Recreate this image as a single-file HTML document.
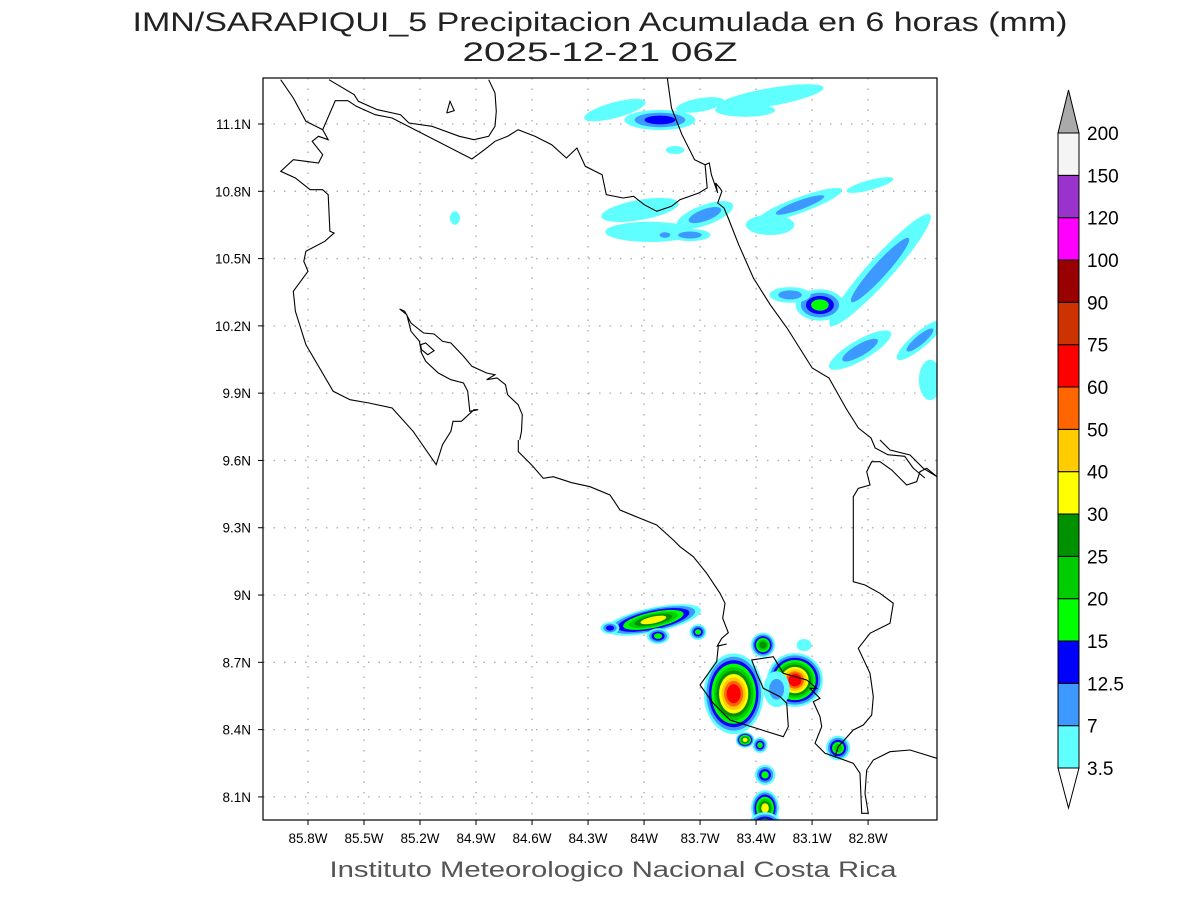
<!DOCTYPE html>
<html><head><meta charset="utf-8"><title>IMN precip</title>
<style>
html,body{margin:0;padding:0;background:#fff;}
svg{display:block;font-family:"Liberation Sans",sans-serif;}
</style></head>
<body>
<svg id="chart" width="1200" height="900" viewBox="0 0 1200 900" xmlns="http://www.w3.org/2000/svg">
<text x="600" y="31" text-anchor="middle" font-size="27" fill="#222" textLength="935" lengthAdjust="spacingAndGlyphs">IMN/SARAPIQUI_5 Precipitacion Acumulada en 6 horas (mm)</text>
<text x="600" y="61" text-anchor="middle" font-size="27" fill="#222" textLength="275" lengthAdjust="spacingAndGlyphs">2025-12-21 06Z</text>
<text x="613" y="877" text-anchor="middle" font-size="22" fill="#555" textLength="567" lengthAdjust="spacingAndGlyphs">Instituto Meteorologico Nacional Costa Rica</text>
<defs><clipPath id="frameClip"><rect x="263" y="78" width="674" height="742"/></clipPath></defs>
<g id="grid"></g>
<g id="precip" clip-path="url(#frameClip)"></g>
<g id="coast" clip-path="url(#frameClip)" fill="none" stroke="#000" stroke-width="1.1"></g>
<rect x="263" y="78" width="674" height="742" fill="none" stroke="#000" stroke-width="1.2"/>
<g id="axes"></g>
<g id="cbar"></g>
</svg>
<script>
// ---- data ----
const lonTicks = [-85.8,-85.5,-85.2,-84.9,-84.6,-84.3,-84.0,-83.7,-83.4,-83.1,-82.8];
const lonLabels = ["85.8W","85.5W","85.2W","84.9W","84.6W","84.3W","84W","83.7W","83.4W","83.1W","82.8W"];
const latTicks = [11.1,10.8,10.5,10.2,9.9,9.6,9.3,9.0,8.7,8.4,8.1];
const latLabels = ["11.1N","10.8N","10.5N","10.2N","9.9N","9.6N","9.3N","9N","8.7N","8.4N","8.1N"];
const levelLabels = ["3.5","7","12.5","15","20","25","30","40","50","60","75","90","100","120","150","200"];
const levelColors = ["#60ffff","#3d99ff","#0000ff","#00ff00","#00cc00","#009000","#ffff00","#ffcc00","#ff6600","#ff0000","#cc3300","#990000","#ff00ff","#9933cc","#f4f4f4"];
// precipitation cells: centre lon/lat, radii (deg), rotation, peak class index
const blobLon  = [-84.156,-83.915,-83.70,-83.325,-83.459,-83.834,-85.013,-84.022,-83.968,-83.674,-83.325,-83.165,-82.79,-83.754,-83.888,-82.736,-83.058,-83.218,-82.843,-82.522,-82.468,
                  -83.95,-84.182,-83.925,-83.711,-83.52,-83.363,-83.192,-83.29,-83.459,-83.379,-83.352,-83.352,-83.352,-82.961,-83.143];
const blobLat  = [11.162,11.118,11.185,11.22,11.162,10.984,10.681,10.717,10.619,10.694,10.65,10.739,10.828,10.605,10.605,10.449,10.293,10.338,10.092,10.137,9.959,
                  8.889,8.853,8.817,8.835,8.56,8.777,8.621,8.58,8.354,8.331,8.198,8.05,7.952,8.318,8.777];
const blobRx   = [0.17,0.19,0.13,0.29,0.16,0.05,0.027,0.21,0.24,0.16,0.13,0.24,0.13,0.11,0.05,0.40,0.13,0.11,0.19,0.16,0.06,
                  0.26,0.05,0.06,0.045,0.16,0.065,0.15,0.07,0.05,0.04,0.055,0.075,0.1,0.065,0.04];
const blobRy   = [0.035,0.045,0.03,0.04,0.03,0.018,0.03,0.045,0.045,0.045,0.045,0.035,0.022,0.027,0.022,0.055,0.07,0.035,0.045,0.035,0.09,
                  0.055,0.027,0.035,0.035,0.18,0.055,0.12,0.08,0.035,0.035,0.045,0.08,0.08,0.055,0.027];
const blobRot  = [-15,0,-10,-10,0,0,0,-10,0,-20,0,-20,-15,0,0,-48,0,0,-30,-40,0,
                  -12,0,0,0,0,0,0,0,0,0,0,0,0,0,0];
const blobPeak = [0,2,0,0,0,0,0,0,0,1,0,1,0,1,1,1,3,1,1,1,0,
                  6,2,3,3,9,5,9,1,6,3,3,6,6,4,0];

// ---- axes ----
const X0=263,X1=937,Y0=78,Y1=820;
const xOf = lon => 308 + (lon + 85.8) * 186.7;
const yOf = lat => 124 + (11.1 - lat) * 224.3;
const NS="http://www.w3.org/2000/svg";
function mk(tag, attrs, parent){const e=document.createElementNS(NS,tag);for(const k in attrs)e.setAttribute(k,attrs[k]);parent.appendChild(e);return e;}

const grid=document.getElementById('grid'), axes=document.getElementById('axes');
lonTicks.forEach((lon,i)=>{
  const x=xOf(lon);
  const gl=mk('line',{x1:x,y1:Y0,x2:x,y2:Y1,stroke:'#aaa','stroke-width':1.3,'stroke-dasharray':'1.5,9'},grid);
  
  
  const t=mk('line',{x1:x,y1:Y1,x2:x,y2:Y1+5,stroke:'#000'},axes);
  
  
  const lb=mk('text',{x:x,y:843,'text-anchor':'middle','font-size':13.5,fill:'#000'},axes);
  lb.textContent=lonLabels[i];
  
  
});
latTicks.forEach((lat,i)=>{
  const y=yOf(lat);
  const gl=mk('line',{x1:X0,y1:y,x2:X1,y2:y,stroke:'#aaa','stroke-width':1.3,'stroke-dasharray':'1.5,9'},grid);
  
  
  const t=mk('line',{x1:X0-5,y1:y,x2:X0,y2:y,stroke:'#000'},axes);
  
  
  const lb=mk('text',{x:251,y:y+5,'text-anchor':'end','font-size':13.5,fill:'#000'},axes);
  lb.textContent=latLabels[i];
  
  
});

// ---- precipitation ----
const precip=document.getElementById('precip');
blobLon.forEach((lon,b)=>{
  const cx=xOf(lon), cy=yOf(blobLat[b]);
  const rx=blobRx[b]*186.7, ry=blobRy[b]*224.3, pk=blobPeak[b];
  for(let i=0;i<=pk;i++){
    const f=1-i/(pk+1)*0.85;
    const e=mk('ellipse',{cx:cx,cy:cy,rx:rx*f,ry:ry*f,fill:levelColors[i],transform:`rotate(${blobRot[b]} ${cx} ${cy})`},precip);
    
    
  }
});

// ---- coastlines (basemap traced in reference-pixel space) ----
const coast=document.getElementById('coast');
const z1=(p)=>p.map(([a,b])=>[266+a/2.38,78+b/3]);
const z2=(p)=>p.map(([a,b])=>[500+a/3,440+b/3]);
const lines=[
 z1([[35,5],[65,60],[95,130],[135,155],[148,185],[125,175],[110,190],[135,230],[125,255],[95,250],[65,245],[35,280],[70,300],[105,335],[135,335],[148,350],[152,460],[162,465],[140,490],[95,520],[90,550],[100,580],[65,640],[70,700],[95,800],[160,940],[200,965],[245,975],[300,990],[350,1060],[405,1160],[420,1100],[440,1060],[445,1030],[465,1030],[495,995],[505,995],[485,1000],[480,940],[470,915],[440,905],[410,885],[380,850],[370,825],[365,790],[345,760],[335,710],[318,693],[330,700],[345,735],[375,765],[400,768],[420,790],[440,795],[470,835],[490,865],[525,885],[545,890],[525,905],[550,900],[570,920],[575,950],[600,980],[610,1010],[608,1060],[604,1085]]),
 z1([[368,800],[380,795],[400,818],[385,830],[370,815],[368,800]]),
 z1([[135,155],[165,68],[195,68],[215,85],[260,110],[300,120],[490,243],[520,215],[545,190],[575,175],[600,155],[640,175],[680,200],[715,240],[740,210],[760,265],[800,290],[810,350],[850,360],[875,355],[900,380],[930,400],[965,385],[985,365],[1030,345],[1050,330],[1045,260],[1055,255],[1060,290],[1075,345],[1070,315],[1080,330],[1085,340],[1075,375],[1090,390],[1100,420],[1125,500],[1160,600],[1200,680],[1240,750],[1300,870],[1340,900],[1380,990],[1410,1050],[1440,1080],[1450,1110],[1480,1130],[1520,1135],[1540,1170],[1568,1200]]),
 z1([[150,5],[210,50],[220,70],[265,95],[320,110],[340,135],[395,145],[460,175],[495,185],[530,175],[545,145],[548,100],[545,45],[530,5]]),
 z1([[955,0],[965,90],[990,170],[1020,245],[1045,260]]),
 z1([[430,105],[438,70],[448,98],[430,105]]),
 z2([[55,0],[55,35],[95,75],[130,115],[160,110],[215,128],[270,140],[330,165],[360,210],[420,235],[470,255],[520,300],[540,320],[580,350],[620,400],[660,460],[675,490],[668,535],[685,578],[665,595],[652,618],[680,612],[655,618],[650,665],[600,735],[640,790],[690,840],[850,890],[865,860],[860,790],[840,770],[790,745],[770,700],[755,660],[820,650],[850,700],[920,720],[950,745],[930,745],[960,775],[940,785],[960,830],[965,860],[945,910],[975,940],[1005,950],[1060,970],[1080,1000],[1085,1120],[1105,1120],[1095,1060],[1100,990],[1120,960],[1170,935],[1230,930],[1311,955]]),
 z2([[1005,950],[1015,920],[1060,870],[1090,855],[1115,825],[1120,770],[1110,700],[1075,625],[1110,580],[1170,550],[1180,490],[1140,460],[1095,435],[1060,425],[1060,170],[1075,145],[1110,135],[1100,95],[1115,65],[1140,65],[1175,90],[1220,135],[1250,125],[1260,95],[1280,85],[1311,110]]),
 z2([[1140,0],[1170,30],[1230,45],[1270,85],[1311,110]])
];
lines.forEach(pts=>{
  const p=mk('polyline',{points:pts.map(q=>q[0].toFixed(1)+','+q[1].toFixed(1)).join(' ')},coast);
  
  
});

// ---- colorbar ----
const cbar=document.getElementById('cbar');
const CB_X=1058, CB_W=21, CB_BOT=768, CB_TOP=133;
const step=(CB_BOT-CB_TOP)/(levelLabels.length-1);
const lowTri=mk('polygon',{points:`${CB_X},${CB_BOT} ${CB_X+CB_W},${CB_BOT} ${CB_X+CB_W/2},${CB_BOT+40}`,fill:'#fff',stroke:'#000'},cbar);


levelColors.forEach((c,i)=>{
  const r=mk('rect',{x:CB_X,y:CB_BOT-(i+1)*step,width:CB_W,height:step,fill:c,stroke:'#000','stroke-width':1},cbar);
  
  
});
const hiTri=mk('polygon',{points:`${CB_X},${CB_TOP} ${CB_X+CB_W},${CB_TOP} ${CB_X+CB_W/2},${CB_TOP-43}`,fill:'#aaa',stroke:'#000'},cbar);


levelLabels.forEach((l,i)=>{
  const t=mk('text',{x:1087,y:CB_BOT-i*step+7,'font-size':19,fill:'#000'},cbar);
  t.textContent=l;
  
  
});
</script>
</body></html>
